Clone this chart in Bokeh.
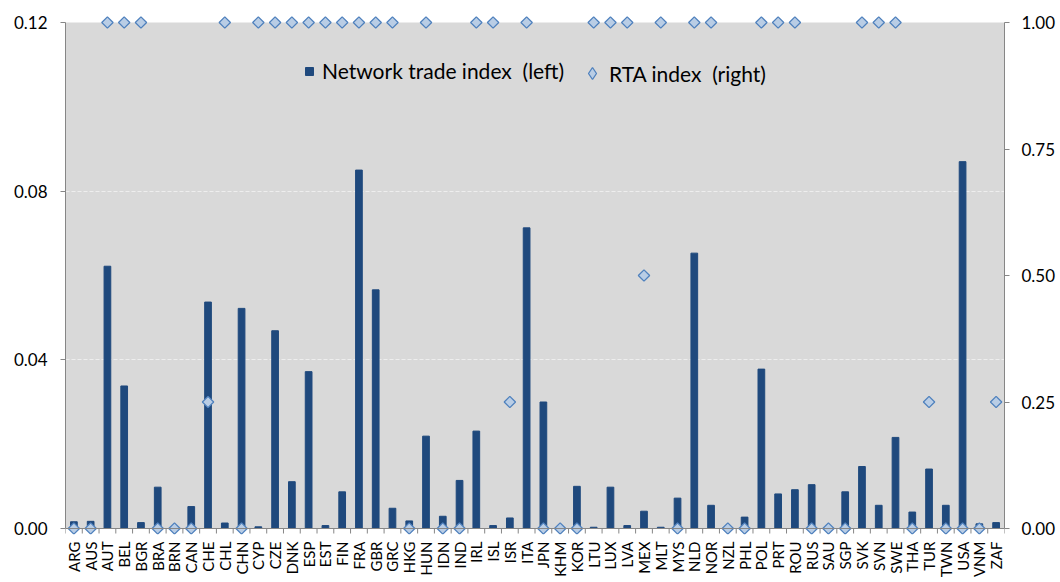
import numpy as np
from bokeh.plotting import figure
from bokeh.models import (Range1d, LinearAxis, FixedTicker, PrintfTickFormatter,
                          BoxAnnotation, Legend, LegendItem, ColumnDataSource, Span)
from bokeh.transform import dodge
from bokeh.embed import file_html
from bokeh.resources import INLINE

countries = ["ARG", "AUS", "AUT", "BEL", "BGR", "BRA", "BRN", "CAN", "CHE", "CHL",
             "CHN", "CYP", "CZE", "DNK", "ESP", "EST", "FIN", "FRA", "GBR", "GRC",
             "HKG", "HUN", "IDN", "IND", "IRL", "ISL", "ISR", "ITA", "JPN", "KHM",
             "KOR", "LTU", "LUX", "LVA", "MEX", "MLT", "MYS", "NLD", "NOR", "NZL",
             "PHL", "POL", "PRT", "ROU", "RUS", "SAU", "SGP", "SVK", "SVN", "SWE",
             "THA", "TUR", "TWN", "USA", "VNM", "ZAF"]

network_trade = [0.0016, 0.0017, 0.0622, 0.0338, 0.0014, 0.0098, 0.0, 0.0052, 0.0537, 0.0013,
                 0.0522, 0.0004, 0.0469, 0.0111, 0.0372, 0.0007, 0.0087, 0.0850, 0.0566, 0.0048,
                 0.0018, 0.0219, 0.0029, 0.0114, 0.0231, 0.0007, 0.0025, 0.0713, 0.0300, 0.0,
                 0.0100, 0.0003, 0.0098, 0.0007, 0.0041, 0.0003, 0.0072, 0.0653, 0.0055, 0.0,
                 0.0027, 0.0378, 0.0082, 0.0092, 0.0104, 0.0, 0.0087, 0.0147, 0.0055, 0.0216,
                 0.0039, 0.0141, 0.0055, 0.0870, 0.0011, 0.0014]

rta_index = [0, 0, 1, 1, 1, 0, 0, 0, 0.25, 1,
             0, 1, 1, 1, 1, 1, 1, 1, 1, 1,
             0, 1, 0, 0, 1, 1, 0.25, 1, 0, 0,
             0, 1, 1, 1, 0.5, 1, 0, 1, 1, 0,
             0, 1, 1, 1, 0, 0, 0, 1, 1, 1,
             0, 0.25, 0, 0, 0, 0.25]

left_ticks = [0.0, 0.04, 0.08, 0.12]
right_ticks = [0.0, 0.25, 0.5, 0.75, 1.0]

LEFT_MAX = 0.12
RIGHT_MAX = 1.0
DATA_PX = 506
EXT_TOP_PX = 7
EXT_BOT_PX = 6

FONT = "Lato"
AXIS_COLOR = "#868686"
BAR_COLOR = "#1F497D"
DIA_FILL = "#B9CDE5"
DIA_LINE = "#4F81BD"

p = figure(x_range=countries,
           y_range=Range1d(-LEFT_MAX * EXT_BOT_PX / DATA_PX, LEFT_MAX * (1 + EXT_TOP_PX / DATA_PX)),
           width=1060, height=582, output_backend="svg", toolbar_location=None,
           min_border_left=65, min_border_right=56, min_border_top=15, min_border_bottom=48)
p.extra_y_ranges = {"right": Range1d(-RIGHT_MAX * EXT_BOT_PX / DATA_PX,
                                     RIGHT_MAX * (1 + EXT_TOP_PX / DATA_PX))}
p.outline_line_color = None
p.background_fill_color = "white"
p.border_fill_color = "white"

p.add_layout(BoxAnnotation(bottom=0, top=LEFT_MAX, fill_color="#d9d9d9", fill_alpha=1,
                           line_color=None, level="image"))

# grid
p.xgrid.grid_line_color = None
p.ygrid.ticker = FixedTicker(ticks=left_ticks[1:-1])
p.ygrid.grid_line_color = "#eeeeee"
p.ygrid.grid_line_dash = "4 2"
p.ygrid.grid_line_width = 1

# left axis
ya = p.yaxis[0]
ya.ticker = FixedTicker(ticks=left_ticks)
ya.formatter = PrintfTickFormatter(format="%.2f")
ya.bounds = (0, LEFT_MAX)
ya.axis_line_color = AXIS_COLOR
ya.major_tick_line_color = AXIS_COLOR
ya.major_tick_in = 0
ya.major_tick_out = 5
ya.minor_tick_line_color = None
ya.major_label_standoff = 13
ya.major_label_text_font = FONT
ya.major_label_text_font_size = "17px"
ya.major_label_text_color = "black"

# right axis
ra = LinearAxis(y_range_name="right", ticker=FixedTicker(ticks=right_ticks),
                formatter=PrintfTickFormatter(format="%.2f"), bounds=(0, RIGHT_MAX))
ra.axis_line_color = AXIS_COLOR
ra.major_tick_line_color = AXIS_COLOR
ra.major_tick_in = 0
ra.major_tick_out = 5
ra.minor_tick_line_color = None
ra.major_label_standoff = 12
ra.major_label_text_font = FONT
ra.major_label_text_font_size = "17px"
ra.major_label_text_color = "black"
p.add_layout(ra, "right")

# x axis (labels only; line drawn at zero)
xa = p.xaxis[0]
xa.axis_line_color = None
xa.major_tick_line_color = None
xa.major_tick_out = 0
xa.major_tick_in = 0
xa.minor_tick_line_color = None
xa.major_label_orientation = np.pi / 2
xa.major_label_standoff = 7
xa.major_label_text_font = FONT
xa.major_label_text_font_size = "15px"
xa.major_label_text_color = "black"

p.add_layout(Span(location=0, dimension="width", line_color=AXIS_COLOR, line_width=1))

src = ColumnDataSource(dict(c=countries, nti=network_trade, rta=rta_index))

# category boundary ticks below the zero line
tick_len = LEFT_MAX * 5 / DATA_PX
tsrc = ColumnDataSource(dict(c=countries))
p.segment(x0=dodge("c", -0.5, range=p.x_range), x1=dodge("c", -0.5, range=p.x_range),
          y0=0, y1=-tick_len, line_color=AXIS_COLOR, line_width=1, source=tsrc)
lsrc = ColumnDataSource(dict(c=countries[-1:]))
p.segment(x0=dodge("c", 0.5, range=p.x_range), x1=dodge("c", 0.5, range=p.x_range),
          y0=0, y1=-tick_len, line_color=AXIS_COLOR, line_width=1, source=lsrc)

bars = p.vbar(x="c", top="nti", width=0.4, source=src, fill_color=BAR_COLOR,
              line_color=BAR_COLOR)
diam = p.scatter(x="c", y="rta", y_range_name="right", source=src, marker="square",
                 angle=np.pi / 4, size=8, fill_color=DIA_FILL, line_color=DIA_LINE,
                 line_width=1.3)
# legend-only diamond glyph (placeholder row with no visible position)
proxy_src = ColumnDataSource(dict(c=countries[:1], v=np.array([np.nan])))
leg_dia = p.scatter(x="c", y="v", source=proxy_src, marker="diamond", fill_color=DIA_FILL,
                    line_color=DIA_LINE, line_width=1.3)

common = dict(orientation="horizontal", background_fill_alpha=0, border_line_color=None,
              label_text_font=FONT, label_text_font_size="21px", label_text_color="black",
              padding=0, margin=0)
legend1 = Legend(items=[LegendItem(label="Network trade index\u00a0 (left)", renderers=[bars])],
                 location=(239, 451), glyph_width=10, glyph_height=10, label_standoff=8,
                 **common)
legend2 = Legend(items=[LegendItem(label="RTA index\u00a0 (right)", renderers=[leg_dia])],
                 location=(512, 446), glyph_width=30, glyph_height=30, label_standoff=2,
                 **common)
p.add_layout(legend1)
p.add_layout(legend2)

open("out.html", "w").write(file_html(p, INLINE))
